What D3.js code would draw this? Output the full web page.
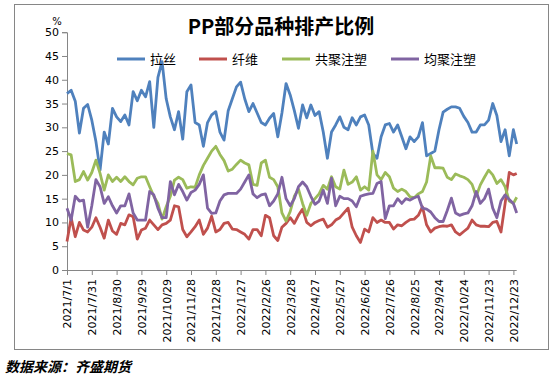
<!DOCTYPE html>
<html>
<head>
<meta charset="utf-8">
<script src="https://cdn.jsdelivr.net/npm/d3@7"></script>
<style>
  body { margin: 0; background: #fff; }
  svg { display: block; }
</style>
</head>
<body>
<div id="chart"></div>
<script>
// series names and colours
const seriesNames = ['拉丝', '纤维', '共聚注塑', '均聚注塑'];
const seriesColors = ['#4F81BD', '#C0504D', '#9BBB59', '#8064A2'];

// dates (every ~5 days)
const dates = [
  '2021/7/1','2021/7/6','2021/7/11','2021/7/16','2021/7/21','2021/7/26','2021/7/31','2021/8/5','2021/8/10','2021/8/15',
  '2021/8/20','2021/8/25','2021/8/30','2021/9/4','2021/9/9','2021/9/14','2021/9/19','2021/9/24','2021/9/29','2021/10/4',
  '2021/10/9','2021/10/14','2021/10/19','2021/10/24','2021/10/29','2021/11/3','2021/11/8','2021/11/13','2021/11/18','2021/11/23',
  '2021/11/28','2021/12/3','2021/12/8','2021/12/13','2021/12/18','2021/12/23','2021/12/28','2022/1/2','2022/1/7','2022/1/12',
  '2022/1/17','2022/1/22','2022/1/27','2022/2/1','2022/2/6','2022/2/11','2022/2/16','2022/2/21','2022/2/26','2022/3/3',
  '2022/3/8','2022/3/13','2022/3/18','2022/3/23','2022/3/28','2022/4/2','2022/4/7','2022/4/12','2022/4/17','2022/4/22',
  '2022/4/27','2022/5/2','2022/5/7','2022/5/12','2022/5/17','2022/5/22','2022/5/27','2022/6/1','2022/6/6','2022/6/11',
  '2022/6/16','2022/6/21','2022/6/26','2022/7/1','2022/7/6','2022/7/11','2022/7/16','2022/7/21','2022/7/26','2022/7/31',
  '2022/8/5','2022/8/10','2022/8/15','2022/8/20','2022/8/25','2022/8/30','2022/9/4','2022/9/9','2022/9/14','2022/9/19',
  '2022/9/24','2022/9/29','2022/10/4','2022/10/9','2022/10/14','2022/10/19','2022/10/24','2022/10/29','2022/11/3','2022/11/8',
  '2022/11/13','2022/11/18','2022/11/23','2022/11/28','2022/12/3','2022/12/8','2022/12/13','2022/12/18','2022/12/23','2022/12/27'
];

// 拉丝
const lasi = [
  37.1,37.8,35.5,28.8,34.0,34.8,31.5,27.0,21.0,29.0,
  26.5,34.0,32.2,31.2,32.6,30.5,37.5,35.6,37.8,36.4,
  39.6,30.0,40.5,43.8,36.0,32.2,29.5,33.3,27.5,37.5,
  38.9,31.0,30.5,26.0,31.0,32.6,33.3,29.0,27.3,33.5,
  36.0,38.5,39.5,36.0,33.3,35.0,33.0,31.0,30.5,31.9,
  32.9,28.0,33.0,39.2,36.8,33.5,29.8,34.7,32.0,34.7,
  32.5,33.3,29.0,23.5,29.0,30.5,32.2,30.0,29.5,32.0,
  30.5,32.2,32.6,30.5,24.5,23.5,28.0,30.5,30.8,29.0,
  30.5,28.0,25.5,28.0,27.0,28.0,31.0,24.0,24.5,25.0,
  29.5,33.2,33.8,34.3,34.3,34.0,32.3,31.0,29.0,29.0,
  30.5,30.5,31.5,35.0,32.5,27.0,29.5,24.0,29.5,26.5
];

// 纤维
const xianwei = [
  6.0,11.0,7.0,10.0,8.4,8.0,9.0,11.0,9.0,6.7,
  10.5,8.2,7.5,9.8,9.5,11.6,11.2,6.5,8.4,8.8,
  10.5,9.5,8.5,9.5,9.8,10.5,13.5,13.3,8.5,7.0,
  8.0,9.1,10.5,7.5,8.8,11.3,8.0,8.5,9.8,10.0,
  8.6,8.5,8.0,7.5,6.5,8.5,8.5,7.2,11.5,11.0,
  7.2,6.2,9.0,9.8,11.0,9.8,11.5,12.8,10.0,9.3,
  10.0,10.4,10.7,9.0,9.5,10.5,11.0,12.0,13.0,9.0,
  7.2,5.8,8.6,8.0,11.0,10.0,10.5,10.0,10.0,8.6,
  9.5,9.3,10.0,10.6,10.7,11.5,13.3,9.5,8.0,8.8,
  9.1,9.3,9.2,9.5,8.0,7.4,8.1,8.8,10.5,9.5,
  9.2,9.2,9.1,10.0,10.2,8.0,14.0,20.5,20.0,20.3
];

// 共聚注塑
const gongju = [
  24.5,24.2,18.6,19.0,20.7,18.9,20.5,23.1,20.3,16.8,
  20.0,18.6,19.5,18.6,19.6,18.6,17.9,19.3,19.6,19.6,
  17.5,15.5,14.0,10.7,13.3,15.5,18.9,19.5,19.0,17.2,
  17.5,17.4,20.0,22.0,23.5,25.0,26.0,24.3,23.0,20.8,
  21.2,22.2,23.1,22.5,22.1,18.0,17.8,22.5,23.1,19.5,
  19.0,17.5,12.0,10.3,12.3,15.5,17.0,14.0,11.5,14.0,
  15.0,16.0,17.8,17.0,19.6,17.5,17.0,21.0,18.0,18.5,
  19.6,16.8,17.5,16.8,25.0,20.0,19.0,20.5,19.6,17.2,
  16.5,17.0,16.5,15.4,15.2,16.0,16.5,18.5,24.0,21.5,
  21.5,21.4,19.5,19.0,20.2,19.8,19.5,19.0,18.0,15.5,
  17.9,19.5,21.0,20.0,18.2,19.0,17.5,14.5,14.0,15.3
];

// 均聚注塑
const junju = [
  13.0,10.5,15.5,14.5,14.7,9.0,13.5,19.0,17.5,14.0,
  15.4,13.5,12.0,13.5,13.5,16.0,12.0,10.5,10.5,10.5,
  16.5,15.8,13.0,11.0,11.0,18.6,15.8,18.0,16.5,14.7,
  16.3,16.8,18.0,20.0,13.0,11.9,12.0,14.5,15.8,16.1,
  16.1,16.1,17.0,18.5,20.0,16.0,15.2,15.8,16.0,13.5,
  14.5,16.0,19.5,15.0,13.5,15.0,17.5,18.5,17.5,15.5,
  13.8,14.5,16.8,14.0,19.3,13.5,15.5,15.0,15.0,14.5,
  13.3,15.5,15.8,16.0,16.1,18.2,18.6,10.8,13.5,13.5,
  15.0,14.0,15.0,14.7,15.2,15.5,13.0,12.8,12.2,11.0,
  10.2,10.2,12.5,15.1,12.0,11.5,11.8,12.0,13.5,16.5,
  14.0,15.0,17.0,13.0,11.0,14.5,15.8,14.8,14.0,12.0
];

// axis ticks
const xTickLabels = ['2021/7/1','2021/7/31','2021/8/30','2021/9/29','2021/10/29','2021/11/28','2021/12/28',
  '2022/1/27','2022/2/26','2022/3/28','2022/4/27','2022/5/27','2022/6/26','2022/7/26','2022/8/25',
  '2022/9/24','2022/10/24','2022/11/23','2022/12/23'];
const yTicks = [0, 5, 10, 15, 20, 25, 30, 35, 40, 45, 50];

const W = 554, H = 376;
const plot = { left: 67, right: 516.7, top: 32.2, bottom: 270 };
const axisColor = '#868686';
const numFont = '"DejaVu Sans", Verdana, sans-serif';
const cjkFont = '"Noto Sans CJK SC", sans-serif';

const parse = d3.timeParse('%Y/%m/%d');
const allSeries = [lasi, xianwei, gongju, junju];

const svg = d3.select('#chart').append('svg')
  .attr('width', W)
  .attr('height', H);

// chart frame
svg.append('rect')
  .attr('x', 14.5).attr('y', 4.5)
  .attr('width', 534).attr('height', 345)
  .attr('fill', 'none')
  .attr('stroke', axisColor);

// scales
const x = d3.scaleTime()
  .domain([parse(dates[0]), parse(dates[dates.length - 1])])
  .range([plot.left, plot.right]);
const y = d3.scaleLinear()
  .domain([0, 50])
  .range([plot.bottom, plot.top]);

// y axis
const yAxis = svg.append('g')
  .attr('transform', 'translate(' + plot.left + ',0)')
  .call(d3.axisLeft(y).tickValues(yTicks).tickSize(5).tickPadding(3));
yAxis.selectAll('path, line').attr('stroke', axisColor);
yAxis.selectAll('text')
  .attr('font-family', numFont)
  .attr('font-size', 11)
  .attr('fill', '#000');

// x axis
const xAxis = svg.append('g')
  .attr('transform', 'translate(0,' + plot.bottom + ')')
  .call(d3.axisBottom(x).tickValues(xTickLabels.map(parse)).tickSize(5).tickFormat(d3.timeFormat('%Y/%-m/%-d')));
xAxis.select('.domain').attr('d', 'M' + plot.left + ',0.5H' + plot.right);
xAxis.selectAll('path, line').attr('stroke', axisColor);
xAxis.selectAll('text')
  .attr('font-family', numFont)
  .attr('font-size', 11)
  .attr('fill', '#000')
  .attr('text-anchor', 'end')
  .attr('transform', 'rotate(-90)')
  .attr('x', -9)
  .attr('y', 0)
  .attr('dy', '0.35em');

// unit label
svg.append('text')
  .text('%')
  .attr('x', 57).attr('y', 24.5)
  .attr('text-anchor', 'middle')
  .attr('font-family', numFont)
  .attr('font-size', 10);

// lines
const line = d3.line()
  .x((d, i) => x(parse(dates[i])))
  .y(d => y(d));

svg.selectAll('.series')
  .data(allSeries)
  .join('path')
  .attr('class', 'series')
  .attr('d', d => line(d))
  .attr('fill', 'none')
  .attr('stroke', (d, i) => seriesColors[i])
  .attr('stroke-width', 2.8)
  .attr('stroke-linejoin', 'round');

// title
svg.append('text')
  .text('PP部分品种排产比例')
  .attr('x', 281).attr('y', 34)
  .attr('text-anchor', 'middle')
  .attr('font-family', cjkFont)
  .attr('font-weight', 'bold')
  .attr('font-size', 20);

// legend
const legendX = [117, 199, 282, 391];
const legend = svg.selectAll('.legend')
  .data(seriesNames)
  .join('g')
  .attr('class', 'legend')
  .attr('transform', (d, i) => 'translate(' + legendX[i] + ',59)');
legend.append('line')
  .attr('x1', 0).attr('x2', 28)
  .attr('stroke', (d, i) => seriesColors[i])
  .attr('stroke-width', 3);
legend.append('text')
  .text(d => d)
  .attr('x', 33).attr('y', 4.5)
  .attr('font-family', cjkFont)
  .attr('font-size', 13);

// source
svg.append('text')
  .text('数据来源：齐盛期货')
  .attr('x', 5).attr('y', 372)
  .attr('font-family', cjkFont)
  .attr('font-weight', 'bold')
  .attr('font-style', 'italic')
  .attr('font-size', 14);
</script>
</body>
</html>
